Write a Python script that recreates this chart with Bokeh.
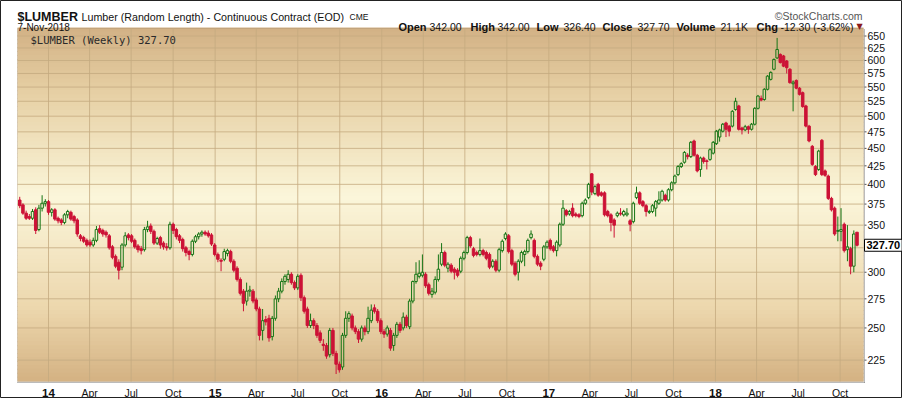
import numpy as np
import pandas as pd
from bokeh.plotting import figure
from bokeh.models import Range1d, Label, BoxAnnotation, ColumnDataSource
from bokeh.embed import file_html
from bokeh.resources import INLINE

# ---------------- data (weekly OHLC) ----------------
first_week = "2013-10-30"

open_ = [380,374,364,360,358,368,345,370,376,378, 365,368,358,356,353,362,365,360,356,338,
         336,333,331,328,333,346,344,342,338,326, 316,310,305,328,339,338,333,327,324,323,
         345,349,343,330,336,330,326,325,351,345, 338,334,325,321,318,332,337,340,342,341,
         339,328,318,312,313,319,321,311,304,293, 282,273,282,282,274,266,248,257,258,243,
         258,275,282,291,293,298,290,285,297,276, 266,252,256,252,246,237,236,229,248,230,
         222,220,244,258,260,250,247,241,250,247, 256,267,264,256,247,245,248,236,244,253,
         250,259,251,273,291,296,297,298,288,279, 281,293,308,320,304,307,303,302,301,314,
         320,336,324,320,318,322,320,318,306,311, 302,322,335,338,322,309,300,311,318,321,
         336,333,316,309,313,326,333,326,322,328, 351,367,363,370,363,362,361,376,383,414,
         388,400,389,389,366,362,356,361,364,362, 362,355,354,383,389,378,373,365,366,370,
         376,380,386,380,393,402,413,424,430,440, 438,461,440,420,436,432,434,443,457,467,
         476,489,484,484,511,517,481,478,483,479, 487,513,530,528,546,564,583,605,612,609,
         599,583,556,562,548,540,517,484,453,424, 420,462,418,411,382,370,343,343,351,323,
         324,306,342]
high = [384,376,367,363,369,371,374,386,381,380, 370,370,360,358,364,368,367,362,358,340,
        338,335,334,336,349,350,346,344,340,328, 318,313,330,342,341,340,335,329,327,348,
        355,352,345,337,338,332,330,354,353,347, 340,336,327,323,334,339,342,344,344,344,
        341,330,320,314,324,324,323,313,306,295, 284,290,287,284,276,268,266,260,261,260,
        278,285,294,298,302,300,292,298,299,278, 268,262,258,254,248,241,238,250,250,232,
        224,246,264,264,262,252,249,252,252,268, 270,270,266,258,249,252,250,246,255,255,
        263,261,275,292,310,312,318,300,290,285, 296,318,330,322,310,309,305,304,316,322,
        338,338,326,322,335,324,322,320,313,313, 325,334,342,340,324,311,313,322,323,335,
        344,335,318,311,328,333,335,328,333,353, 380,369,368,376,365,364,378,382,402,415,
        399,402,391,391,368,364,358,366,370,368, 370,357,378,397,391,380,375,368,375,380,
        391,393,388,395,404,413,426,430,446,443, 461,463,442,438,438,434,450,461,478,480,
        489,491,486,510,531,519,483,486,485,489, 515,536,535,548,572,579,604,646,614,611,
        601,585,562,564,550,542,519,486,455,426, 448,464,420,413,384,372,360,370,353,350,
        326,344,342]
low = [370,362,356,356,356,340,343,366,372,362, 360,355,352,350,351,358,355,352,337,332,
       330,326,326,326,331,340,337,336,323,313, 304,293,302,326,333,330,324,320,318,321,
       342,340,328,328,324,323,322,323,340,334, 330,321,316,312,316,330,334,337,338,336,
       327,316,310,301,311,316,309,300,291,278, 264,269,277,271,264,240,240,252,239,240,
       256,272,280,288,290,288,283,283,273,262, 250,250,249,242,238,232,226,227,228,215,
       216,218,242,255,248,245,238,239,244,245, 254,262,254,245,242,243,232,232,242,246,
       248,250,249,271,289,294,295,285,278,276, 279,291,306,305,300,299,293,295,299,312,
       318,325,315,316,316,316,312,303,304,300, 300,320,333,319,306,296,292,309,306,319,
       334,314,306,302,311,324,322,320,316,326, 349,360,361,359,359,358,359,374,381,386,
       386,384,384,360,359,343,336,359,361,360, 360,343,352,381,374,371,360,363,364,360,
       374,378,378,378,391,400,411,422,428,434, 436,438,416,410,428,420,432,441,455,460,
       474,467,468,482,509,477,471,476,472,477, 485,511,525,526,544,562,581,603,594,587,
       575,556,508,546,535,514,482,459,425,411, 418,411,410,380,366,338,332,332,320,311,
       298,300,326.4]
close = [373,364,358,358,366,344,370,376,378,365, 368,357,355,353,362,366,357,355,340,335,
         332,328,328,333,345,342,340,339,325,315, 306,302,328,338,336,332,326,323,322,345,
         348,343,330,335,328,326,325,351,344,337, 333,324,320,318,332,337,340,342,340,338,
         329,318,313,311,321,322,311,302,293,280, 271,282,283,273,266,244,256,255,242,258,
         275,282,291,296,298,290,285,296,276,264, 252,256,252,244,240,236,228,248,230,222,
         218,244,258,262,250,247,241,250,247,258, 265,264,256,247,245,250,234,244,253,248,
         259,252,273,291,298,299,300,287,280,282, 293,303,320,307,308,301,300,297,314,320,
         336,327,317,318,322,318,314,305,311,302, 323,332,340,321,308,298,311,320,321,333,
         340,316,308,306,326,331,324,322,331,351, 370,362,366,361,361,360,376,380,400,390,
         397,386,386,362,361,353,350,364,363,366, 364,351,376,389,376,373,366,366,373,378,
         380,391,380,393,402,411,424,428,444,438, 459,440,418,436,431,431,448,459,476,478,
         487,479,476,508,525,479,478,483,479,487, 513,534,527,546,570,577,602,622,596,589,
         586,558,559,548,537,516,484,461,427,413, 446,413,412,382,368,340,344,345,322,326,
         306,340,327.7]

price_labels = [225, 250, 275, 300, 350, 375, 400, 425, 450, 475, 500, 525, 550, 575, 600, 625, 650]
price_grid = [225, 250, 275, 300, 325, 350, 375, 400, 425, 450, 475, 500, 525, 550, 575, 600, 625, 650]
quarters = ["2014-01-01", "2014-04-01", "2014-07-01", "2014-10-01",
            "2015-01-01", "2015-04-01", "2015-07-01", "2015-10-01",
            "2016-01-01", "2016-04-01", "2016-07-01", "2016-10-01",
            "2017-01-01", "2017-04-01", "2017-07-01", "2017-10-01",
            "2018-01-01", "2018-04-01", "2018-07-01", "2018-10-01"]
quarter_labels = ["14", "Apr", "Jul", "Oct", "15", "Apr", "Jul", "Oct", "16", "Apr", "Jul", "Oct",
                  "17", "Apr", "Jul", "Oct", "18", "Apr", "Jul", "Oct"]

last_price = "327.70"
quote_keys = ["Open", "High", "Low", "Close", "Volume", "Chg"]
quote_vals = ["342.00", "342.00", "326.40", "327.70", "21.1K", "-12.30 (-3.62%)"]

# ---------------- geometry ----------------
def ms(s):
    return pd.Timestamp(s).value // 10**6

DAY = 86400000
W, H = 902, 398
FL, FR, FT, FB = 17, 863, 28, 381       # chart area in page pixels
FW, FH = FR - FL, FB - FT

x_start = ms("2013-10-25 02:00")
x_end = ms("2018-11-21 05:00")
y_lo, y_hi = 209.8, 666.2
mpp = (x_end - x_start) / FW            # ms per pixel
kpp = np.log(y_hi / y_lo) / FH          # log-units per pixel
X0, X1 = x_start - FL * mpp, x_end + (W - FR) * mpp
Y0, Y1 = y_lo * np.exp(-(H - FB) * kpp), y_hi * np.exp(FT * kpp)

dates = pd.date_range(first_week, periods=len(close), freq="7D")
o = np.array(open_, float); h = np.array(high, float)
l = np.array(low, float); c = np.array(close, float)
btop = np.maximum(o, c); bbot = np.minimum(o, c)
up = c >= o
dn = ~up

FONT = "Liberation Sans"
GREEN = "#157515"
RED = "#CC1236"
GRID = "#c4aa80"

p = figure(width=W, height=H, x_axis_type="datetime", y_axis_type="log",
           x_axis_location=None, y_axis_location=None,
           x_range=Range1d(X0, X1), y_range=Range1d(Y0, Y1),
           output_backend="svg", toolbar_location=None,
           min_border_left=0, min_border_right=0, min_border_top=0, min_border_bottom=0)
p.border_fill_color = "white"
p.background_fill_color = "white"
p.outline_line_color = "#222222"
p.outline_line_width = 1
p.xgrid.visible = False
p.ygrid.visible = False

# gradient background of the chart area (bands evenly spaced on screen)
stops = [(0.0, (210, 177, 133)), (0.18, (230, 207, 163)), (0.48, (251, 246, 218)),
         (0.8, (236, 214, 172)), (1.0, (212, 178, 131))]
def grad(t):
    for (t0, c0), (t1, c1) in zip(stops[:-1], stops[1:]):
        if t0 <= t <= t1:
            f = (t - t0) / (t1 - t0)
            return "#%02x%02x%02x" % tuple(int(round(a + (b - a) * f)) for a, b in zip(c0, c1))
    return "#%02x%02x%02x" % stops[-1][1]
nb = 90
edges = np.exp(np.linspace(np.log(y_hi), np.log(y_lo), nb + 1))
for k in range(nb):
    p.add_layout(BoxAnnotation(left=x_start, right=x_end, top=edges[k] * 1.003, bottom=edges[k + 1],
                               fill_color=grad((k + 0.5) / nb), fill_alpha=1.0, line_color=None,
                               level="image"))

# grid lines (limited to chart area)
qms = [ms(q) for q in quarters]
p.segment(x0=qms, y0=[y_lo] * len(qms), x1=qms, y1=[y_hi] * len(qms),
          line_color=GRID, line_width=1, line_alpha=0.8)
p.segment(x0=[x_start] * len(price_grid), y0=price_grid, x1=[x_end] * len(price_grid), y1=price_grid,
          line_color=GRID, line_width=1, line_alpha=0.8)

# chart border + dotted axis lines + y ticks
p.add_layout(BoxAnnotation(left=x_start, right=x_end, top=y_hi, bottom=y_lo, fill_alpha=0,
                           line_color="#9a8668", line_width=1, level="underlay"))
xr = x_end + 1 * mpp
yb = y_lo * np.exp(-1 * kpp)
p.segment(x0=[xr], y0=[yb], x1=[xr], y1=[y_hi], line_color="#777777", line_dash="1 1")
p.segment(x0=[x_start], y0=[yb], x1=[xr], y1=[yb], line_color="#777777", line_dash="1 1")
p.segment(x0=[xr] * len(price_labels), y0=price_labels, x1=[xr + 2 * mpp] * len(price_labels),
          y1=price_labels, line_color="#555555")

# candles
width = 5.5 * DAY
src_up = ColumnDataSource(dict(x=dates[up], top=btop[up], bot=bbot[up], h=h[up], l=l[up]))
src_dn = ColumnDataSource(dict(x=dates[dn], top=btop[dn], bot=bbot[dn], h=h[dn], l=l[dn]))
p.segment(x0="x", y0="h", x1="x", y1="top", source=src_up, line_color=GREEN, line_width=1)
p.segment(x0="x", y0="bot", x1="x", y1="l", source=src_up, line_color=GREEN, line_width=1)
p.vbar(x="x", width=width, top="top", bottom="bot", source=src_up, fill_alpha=0,
       line_color=GREEN, line_width=1)
p.segment(x0="x", y0="h", x1="x", y1="l", source=src_dn, line_color=RED, line_width=1)
p.vbar(x="x", width=width, top="top", bottom="bot", source=src_dn, fill_color=RED,
       line_color=RED, line_width=1)

# ---------------- texts ----------------
def lab(text, px, py, size, bold=False, color="#111111", align="left", font=FONT,
        baseline="alphabetic", **kw):
    p.add_layout(Label(x=px, y=H - py, x_units="screen", y_units="screen", text=text,
                       text_font=font, text_font_size=size, text_color=color,
                       text_font_style="bold" if bold else "normal", text_align=align,
                       text_baseline=baseline, **kw))

# axis tick labels placed through the data scales
for v in price_labels:
    p.add_layout(Label(x=xr, y=v, x_offset=3, text=str(v), text_font=FONT,
                       text_font_size="10.5px", text_color="#111111", text_baseline="middle"))
for q, t in zip(qms, quarter_labels):
    is_year = t.isdigit()
    p.add_layout(Label(x=q, y=y_lo, y_offset=-11, text=t, text_font=FONT,
                       text_font_size="11.5px" if is_year else "10.5px",
                       text_font_style="bold" if is_year else "normal",
                       text_color="#111111", text_align="center", text_baseline="alphabetic"))

# last price box on the axis
p.add_layout(Label(x=xr, y=c[-1], x_offset=0, text=last_price, text_font=FONT,
                   text_font_size="11px", text_font_style="bold", text_color="#000000",
                   text_baseline="middle", background_fill_color="white",
                   border_line_color="black", border_line_width=1, padding=2))

# header
lab("$LUMBER", 17, 16, "12.5px", bold=True)
lab("Lumber (Random Length) - Continuous Contract (EOD)", 81, 16, "10.7px")
lab("CME", 349, 16, "8.5px")
lab("\u00a9StockCharts.com", 862, 15, "10.5px", color="#555555", align="right")
lab("7-Nov-2018", 17, 26.5, "10px")
key_x = [426, 470, 536, 602, 676, 756]
val_x = [429, 497, 563, 637, 720, 780]
for i, (kk, v) in enumerate(zip(quote_keys, quote_vals)):
    lab(kk, key_x[i], 26.5, "11px", bold=True, align="right" if i == 0 else "left")
    lab(v, val_x[i], 26.5, "10.5px")
lab("\u25bc", 856, 26, "8px", color="#8b1a1a", font="DejaVu Sans")

# in-chart legend text
lab("$LUMBER (Weekly) " + last_price, 30, 39, "10.5px", color="#2a2a2a", font="DejaVu Sans Mono")

open("out.html", "w").write(file_html(p, INLINE))
